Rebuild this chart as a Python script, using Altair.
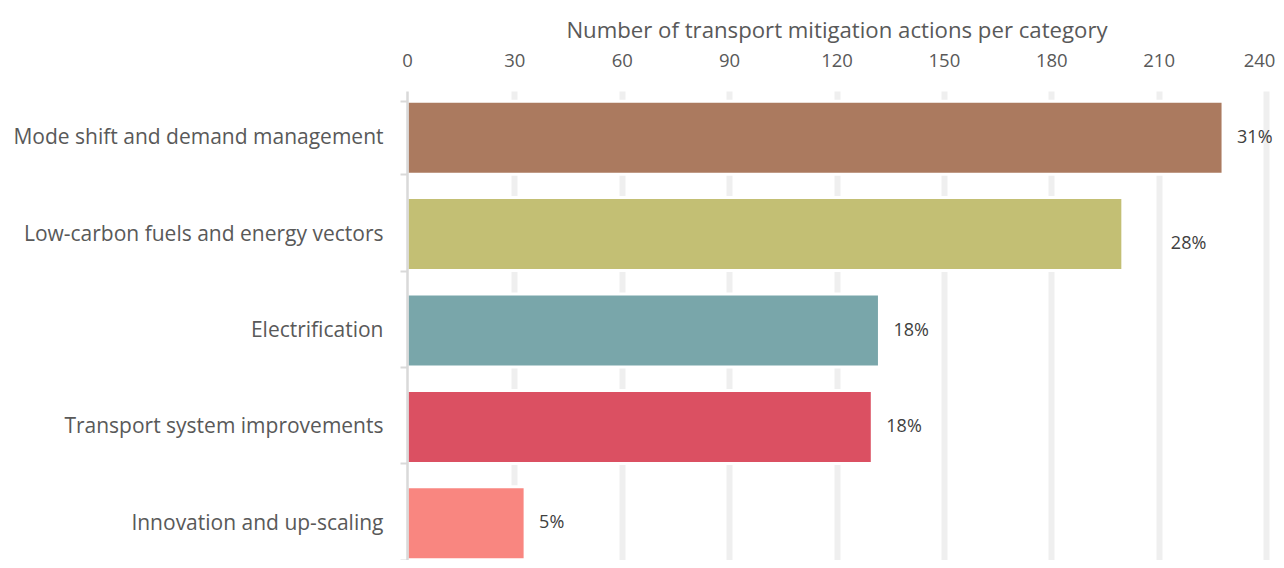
import altair as alt
import pandas as pd

categories = [
    "Mode shift and demand management",
    "Low-carbon fuels and energy vectors",
    "Electrification",
    "Transport system improvements",
    "Innovation and up-scaling",
]
counts = [228, 200, 132, 130, 33]
shares = ["31%", "28%", "18%", "18%", "5%"]
colors = ["#AB7A5F", "#C3BF74", "#79A6AA", "#DB5062", "#F98680"]
x_ticks = [0, 30, 60, 90, 120, 150, 180, 210, 240]
x_title = "Number of transport mitigation actions per category"

df = pd.DataFrame({"category": categories, "count": counts, "share": shares})

FONT = "Open Sans"
TEXT = "#595959"

y_enc = alt.Y(
    "category:N",
    sort=categories,
    title=None,
    scale=alt.Scale(paddingInner=0.243, paddingOuter=0.105, range=[0, 479]),
    axis=alt.Axis(
        domainColor="#D9D9D9",
        domainWidth=2.5,
        tickColor="#D9D9D9",
        tickWidth=2,
        tickSize=7,
        tickBand="extent",
        labelPadding=17,
        labelFontSize=21,
        labelFont=FONT,
        labelColor=TEXT,
        labelLimit=600,
        zindex=1,
    ),
)

x_enc = alt.X(
    "count:Q",
    scale=alt.Scale(domain=[0, 240], nice=False),
    axis=alt.Axis(
        orient="top",
        values=x_ticks,
        title=x_title,
        grid=True,
        gridColor="#EFEFEF",
        gridWidth=6,
        gridOpacity={"condition": {"test": "datum.value === 0", "value": 0}, "value": 1},
        domain=False,
        ticks=False,
        labelFlush=False,
        labelOffset={"condition": {"test": "datum.value === 240", "value": -7}, "value": 0},
        labelPadding=21,
        labelFontSize=18.5,
        labelFont=FONT,
        labelColor=TEXT,
        titleFont=FONT,
        titleFontSize=22.2,
        titleFontWeight="normal",
        titleColor=TEXT,
        titlePadding=9,
    ),
)

bars = alt.Chart(df).mark_bar(stroke="white", strokeWidth=3).encode(
    x=x_enc,
    y=y_enc,
    color=alt.Color(
        "category:N",
        scale=alt.Scale(domain=categories, range=colors),
        legend=None,
    ),
)

labels = alt.Chart(df).transform_filter(
    alt.datum.category != categories[1]
).mark_text(
    align="left", baseline="middle", dx=14, font=FONT, fontSize=18, color="#404040"
).encode(
    x=alt.X("count:Q"),
    y=alt.Y("category:N", sort=categories),
    text="share:N",
)

label_second = alt.Chart(df).transform_filter(
    alt.datum.category == categories[1]
).mark_text(
    align="left", baseline="middle", dx=48, dy=10, font=FONT, fontSize=18, color="#404040"
).encode(
    x=alt.X("count:Q"),
    y=alt.Y("category:N", sort=categories),
    text="share:N",
)

chart = (
    alt.layer(bars, labels, label_second)
    .properties(
        width=859,
        height=469,
        autosize="none",
        padding={"left": 399, "top": 83, "right": 10, "bottom": 0},
        background="white",
    )
    .configure_view(stroke=None)
)

chart.save("out.html", embed_options={"renderer": "svg", "actions": False})
